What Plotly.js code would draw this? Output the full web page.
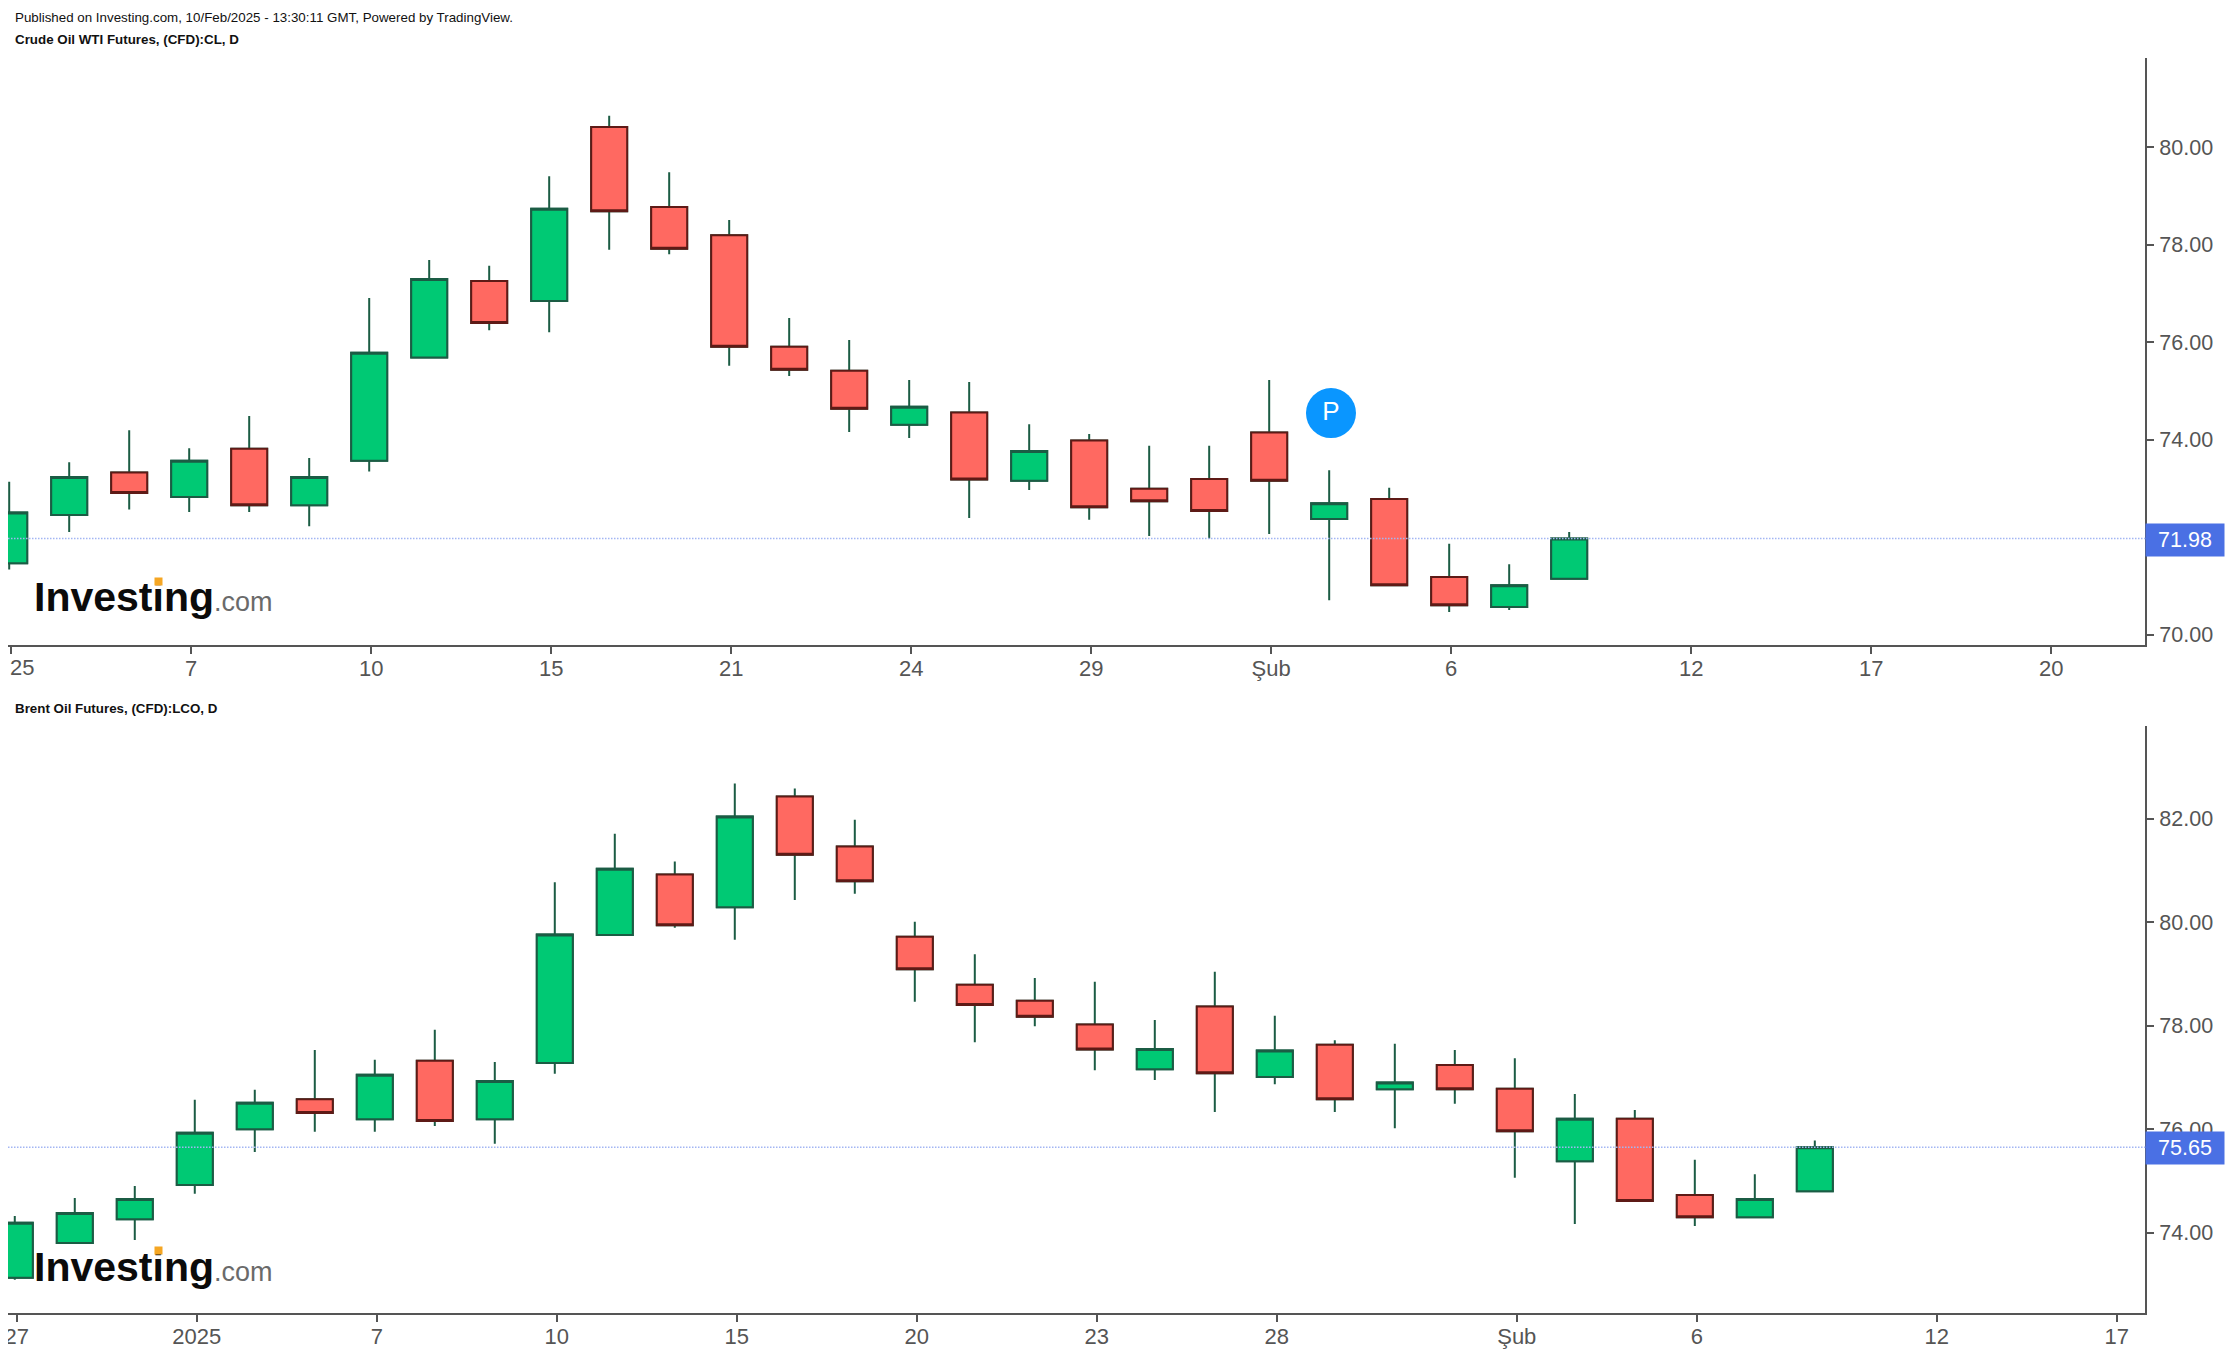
<!DOCTYPE html>
<html>
<head>
<meta charset="utf-8">
<script src="https://cdn.plot.ly/plotly-3.0.1.min.js"></script>
<style>html,body{margin:0;padding:0;background:#fff}#chart{width:2230px;height:1356px}</style>
</head>
<body>
<div id="chart"></div>
<script>
// Crude Oil WTI Futures
const wtiOpen  = [71.47,72.46,73.33,72.83,73.82,72.66,73.57,75.69,77.26,76.85,80.42,78.78,78.20,75.91,75.42,74.31,74.56,73.16,73.99,73.00,73.20,74.15,72.38,72.79,71.19,70.57,71.15];
const wtiHigh  = [73.14,73.54,74.20,73.83,74.49,73.63,76.91,77.69,77.57,79.41,80.65,79.49,78.51,76.50,76.05,75.23,75.19,74.32,74.12,73.88,73.88,75.23,73.38,73.02,71.87,71.45,72.11];
const wtiLow   = [71.34,72.11,72.57,72.52,72.52,72.23,73.35,75.69,76.25,76.21,77.90,77.81,75.52,75.31,74.16,74.04,72.40,72.97,72.36,72.03,71.98,72.07,70.71,71.02,70.47,70.51,71.15];
const wtiClose = [72.51,73.24,72.91,73.57,72.66,73.24,75.79,77.30,76.40,78.74,78.69,77.92,75.91,75.44,74.64,74.68,73.19,73.77,72.62,72.74,72.54,73.16,72.70,71.02,70.61,71.02,71.98];
const wtiLast = 71.98;
const wtiTickIdx = [0,3,6,9,12,15,18,21,24,28,31,34];
const wtiTickText = ['','7','10','15','21','24','29','Şub','6','12','17','20'];
const wtiFirstLabel = '25';
const wtiPriceTicks = [70,72,74,76,78,80];

// Brent Oil Futures
const brentOpen  = [73.13,73.80,74.26,74.92,76.00,76.58,76.19,77.32,76.19,77.28,79.75,80.92,80.29,82.43,81.46,79.72,78.79,78.48,78.02,77.16,78.37,77.01,77.63,76.77,77.24,76.78,75.38,76.20,74.73,74.30,74.80];
const brentHigh  = [74.32,74.67,74.90,76.57,76.76,77.53,77.34,77.92,77.30,80.77,81.71,81.17,82.68,82.58,81.98,80.01,79.38,78.92,78.85,78.11,79.04,78.19,77.72,77.65,77.53,77.37,76.68,76.37,75.41,75.13,75.78];
const brentLow   = [73.09,73.80,73.86,74.75,75.56,75.95,75.95,76.06,75.72,77.07,79.75,79.89,79.66,80.43,80.55,78.46,77.68,77.99,77.14,76.95,76.33,76.87,76.33,76.02,76.49,75.06,74.17,74.61,74.13,74.30,74.80];
const brentClose = [74.19,74.38,74.65,75.93,76.51,76.31,77.05,76.16,76.93,79.76,81.03,79.94,82.04,81.30,80.79,79.09,78.40,78.17,77.54,77.55,77.08,77.52,76.58,76.90,76.77,75.96,76.20,74.61,74.30,74.65,75.65];
const brentLast = 75.65;
const brentTickIdx = [0,3,6,9,12,15,18,21,25,28,32,35];
const brentTickText = ['27','2025','7','10','15','20','23','28','Şub','6','12','17'];
const brentPriceTicks = [74,76,78,80,82];

const publishedText = 'Published on Investing.com, 10/Feb/2025 - 13:30:11 GMT, Powered by TradingView.';
const wtiTitle = 'Crude Oil WTI Futures, (CFD):CL, D';
const brentTitle = 'Brent Oil Futures, (CFD):LCO, D';

const W = 2230, H = 1356;
const px = v => v / W, py = v => 1 - v / H;
const FONT = 'Liberation Sans, Arial, sans-serif';
const GREEN = '#00C974', RED = '#FF6961', WICK = '#1B5C44', RED_LINE = '#5E1A16', AXIS = '#555555', BLUE = '#4A70E4';
const idx = a => a.map((_, i) => i);
const tickShift = 0.033;

function candleTraces(o, h, l, c, xa, ya) {
  const x = idx(o);
  const topBody = o.map((v, i) => Math.max(v, c[i]));
  const lowBody = o.map((v, i) => Math.min(v, c[i]));
  return [
    { type: 'candlestick', x, open: o, high: h, low: l, close: c, xaxis: xa, yaxis: ya, hoverinfo: 'skip', showlegend: false,
      whiskerwidth: 0,
      increasing: { line: { color: WICK, width: 2 }, fillcolor: GREEN },
      decreasing: { line: { color: WICK, width: 2 }, fillcolor: RED } },
    { type: 'candlestick', x, open: o, high: topBody, low: lowBody, close: c, xaxis: xa, yaxis: ya, hoverinfo: 'skip', showlegend: false,
      whiskerwidth: 0,
      increasing: { line: { color: WICK, width: 2 }, fillcolor: GREEN },
      decreasing: { line: { color: RED_LINE, width: 2 }, fillcolor: RED } }
  ];
}

const pMarker = { type: 'scatter', mode: 'markers+text', x: [22.03], y: [74.55], text: ['P'], textposition: 'middle center',
  textfont: { family: FONT, size: 26, color: '#ffffff' },
  marker: { size: 50, color: '#0A96FF', line: { width: 0 } }, xaxis: 'x', yaxis: 'y', hoverinfo: 'skip', showlegend: false };

const data = [...candleTraces(wtiOpen, wtiHigh, wtiLow, wtiClose, 'x', 'y'),
              ...candleTraces(brentOpen, brentHigh, brentLow, brentClose, 'x2', 'y2'), pMarker];

function xAxisCfg(anchor, range, tickIdx, tickText) {
  return { domain: [px(8), px(2145)], anchor, range, type: 'linear', fixedrange: true,
    rangeslider: { visible: false }, showgrid: false, zeroline: false, showline: true, linecolor: AXIS, linewidth: 2,
    ticks: 'outside', ticklen: 7, tickwidth: 2, tickcolor: AXIS, tickmode: 'array',
    tickvals: tickIdx.map(v => v + tickShift), ticktext: tickText, ticklabelstandoff: -4,
    tickfont: { family: FONT, size: 22, color: AXIS } };
}
function yAxisCfg(anchor, yTop, yBottom, range, ticks) {
  return { domain: [py(yBottom), py(yTop)], anchor, side: 'right', range, type: 'linear', fixedrange: true,
    showgrid: false, zeroline: false, showline: true, linecolor: AXIS, linewidth: 2,
    ticks: 'outside', ticklen: 7, tickwidth: 2, tickcolor: AXIS, tickmode: 'array',
    tickvals: ticks, ticktext: ticks.map(v => v.toFixed(2)), ticklabelstandoff: 1,
    tickfont: { family: FONT, size: 21.5, color: AXIS } };
}

function textNote(text, x, y, size, opts) {
  return Object.assign({ text, xref: 'paper', yref: 'paper', x: px(x), y: py(y), xanchor: 'left', yanchor: 'middle', showarrow: false,
    font: { family: FONT, size, color: '#111111' } }, opts || {});
}
function priceLabel(v, y) {
  return { text: v.toFixed(2), xref: 'paper', yref: 'paper', x: px(2145), y: py(y), xanchor: 'left', yanchor: 'middle', showarrow: false,
    width: 76, height: 30, align: 'center', bgcolor: BLUE, font: { family: FONT, size: 21.5, color: '#ffffff' } };
}
const logo = y => textNote('<b>Investing</b><span style="font-size:27px;color:#6a6a6a">.com</span>', 32, y, 41, { font: { family: FONT, size: 41, color: '#0b0b0b' } });
const logoDot = y => ({ text: ' ', xref: 'paper', yref: 'paper', x: px(158.3), y: py(y), xanchor: 'center', yanchor: 'middle', showarrow: false,
  width: 5, height: 5, bgcolor: '#F5A623', font: { size: 4, color: '#F5A623' } });

const dotLine = (yref, v) => ({ type: 'line', xref: 'paper', yref, x0: px(8), x1: px(2146), y0: v, y1: v, line: { color: '#A3B6F3', width: 1.5, dash: '1.5px,1.5px' }, layer: 'above' });

const layout = {
  width: W, height: H, margin: { l: 0, r: 0, t: 0, b: 0 }, paper_bgcolor: '#ffffff', plot_bgcolor: '#ffffff', showlegend: false,
  boxgap: 0.4, boxgroupgap: 0,
  xaxis: xAxisCfg('y', [-0.02, 35.597], wtiTickIdx, wtiTickText),
  yaxis: yAxisCfg('x', 58, 645, [69.793, 81.834], wtiPriceTicks),
  xaxis2: xAxisCfg('y2', [-0.113, 35.503], brentTickIdx, brentTickText),
  yaxis2: yAxisCfg('x2', 726, 1313, [72.448, 83.79], brentPriceTicks),
  shapes: [
    dotLine('y', wtiLast), dotLine('y2', brentLast),
    { type: 'rect', xref: 'paper', yref: 'paper', x0: 0, x1: px(8), y0: py(1350), y1: py(1318), fillcolor: '#ffffff', line: { width: 0 }, layer: 'above' }
  ],
  annotations: [
    textNote(publishedText, 13, 17, 13.35),
    textNote('<b>' + wtiTitle + '</b>', 13, 40, 13.35),
    textNote('<b>' + brentTitle + '</b>', 13, 708, 13.35),
    textNote(wtiFirstLabel, 8, 667, 22, { font: { family: FONT, size: 22, color: AXIS } }),
    logo(597), logo(1267), logoDot(581), logoDot(1250),
    priceLabel(wtiLast, 540), priceLabel(brentLast, 1148)
  ]
};

Plotly.newPlot('chart', data, layout, { displayModeBar: false, staticPlot: true });
</script>
</body>
</html>
